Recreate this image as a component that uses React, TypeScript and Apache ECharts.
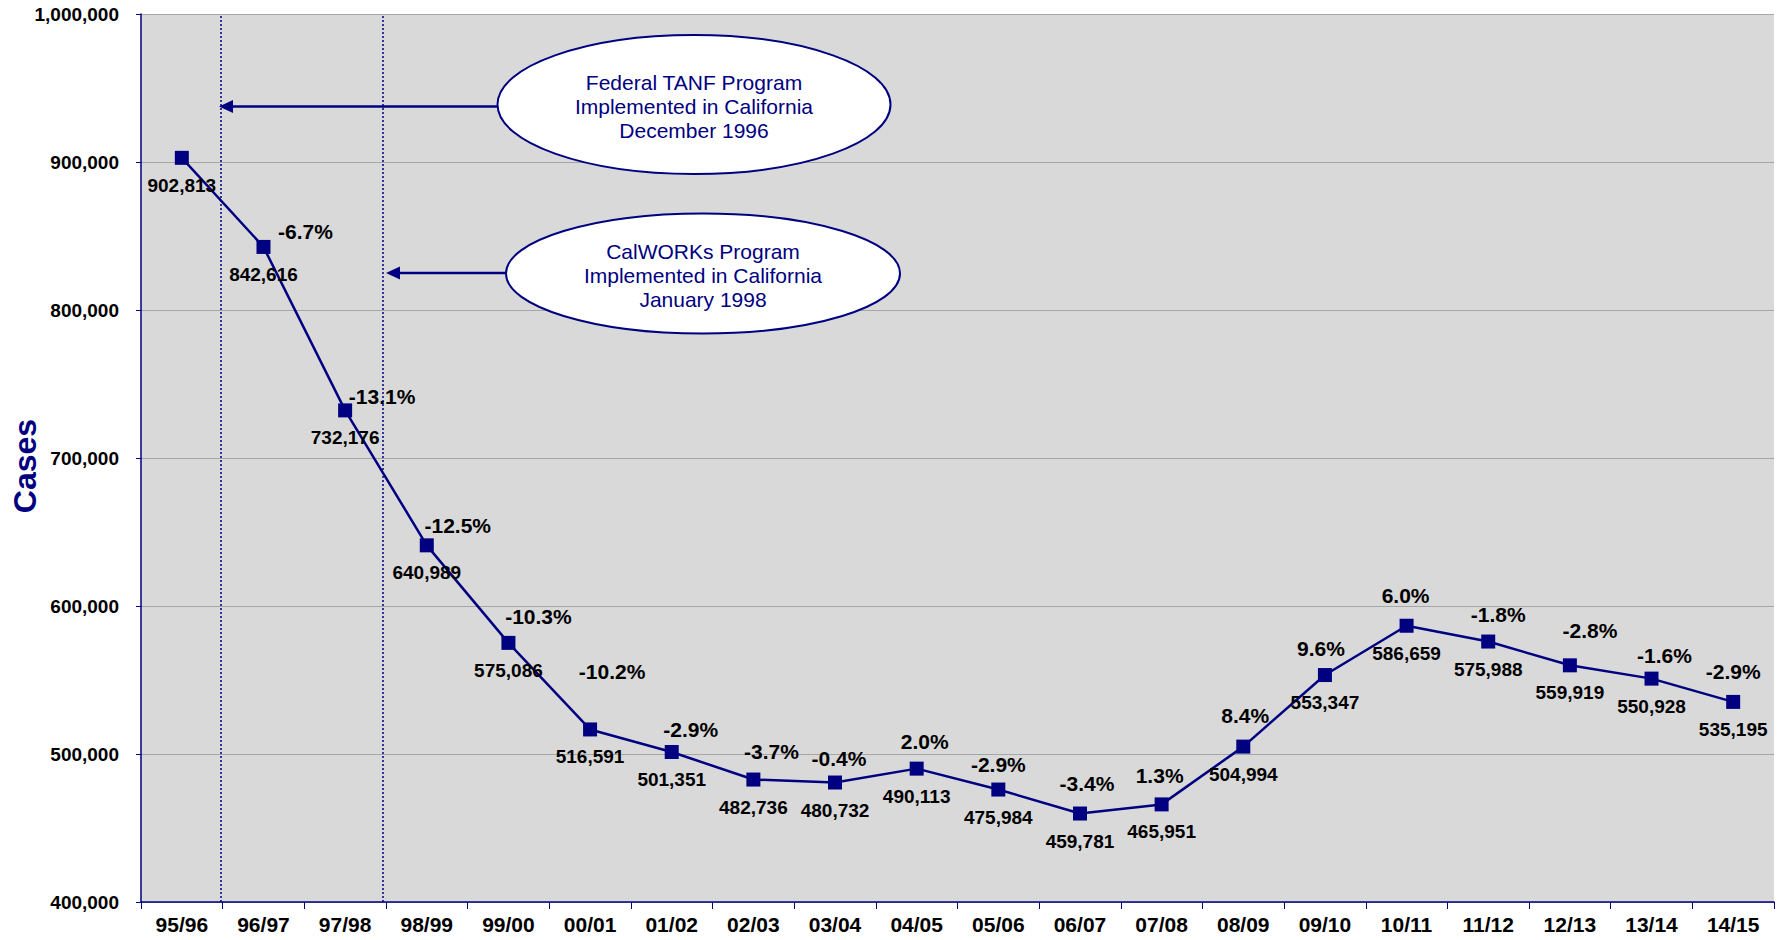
import React, { useEffect, useRef } from "react";
import * as echarts from "echarts";

const categories = ["95/96", "96/97", "97/98", "98/99", "99/00", "00/01", "01/02", "02/03", "03/04", "04/05", "05/06", "06/07", "07/08", "08/09", "09/10", "10/11", "11/12", "12/13", "13/14", "14/15"];
const cases = [902813, 842616, 732176, 640989, 575086, 516591, 501351, 482736, 480732, 490113, 475984, 459781, 465951, 504994, 553347, 586659, 575988, 559919, 550928, 535195];
const pctChange = ["", "-6.7%", "-13.1%", "-12.5%", "-10.3%", "-10.2%", "-2.9%", "-3.7%", "-0.4%", "2.0%", "-2.9%", "-3.4%", "1.3%", "8.4%", "9.6%", "6.0%", "-1.8%", "-2.8%", "-1.6%", "-2.9%"];
const yTicks = { min: 400000, max: 1000000, interval: 100000 };
const eventLinePositions = [0.98, 2.96];
const annotationTexts = [
  "Federal TANF Program\nImplemented in California\nDecember 1996",
  "CalWORKs Program\nImplemented in California\nJanuary 1998",
];

// label placement (style only): offset of label centre from point centre
const pctLabelOffsets = [[0, 0], [42, -15], [37, -13], [31, -19], [30, -26], [22, -57], [19, -22], [18, -28], [4, -24], [8, -27], [0, -25], [7, -30], [-2, -28], [2, -31], [-4, -26], [-1, -30], [10, -27], [20, -34], [13, -23], [0, -30]];

const NAVY = "#000080";
const FONT = "Arial, 'Liberation Sans', sans-serif";
const PCT_SIZE = 21;

export default function App() {
  const ref = useRef<HTMLDivElement>(null);
  useEffect(() => {
    if (!ref.current) return;
    const chart = echarts.init(ref.current, null, { renderer: "svg" });
    const fmt = (v: number) => v.toLocaleString("en-US");
    chart.setOption({
      animation: false,
      backgroundColor: "#ffffff",
      textStyle: { fontFamily: FONT },
      grid: {
        left: 141, right: 3, top: 14, bottom: 38,
        containLabel: false, outerBoundsMode: "none",
        show: true, backgroundColor: "#D9D9D9", borderWidth: 0,
      },
      xAxis: [
        {
          type: "category",
          data: categories,
          boundaryGap: true,
          axisLine: { show: true, lineStyle: { color: NAVY, width: 1.5 } },
          axisTick: { show: true, length: 7, lineStyle: { color: NAVY, width: 1 } },
          axisLabel: { fontFamily: FONT, fontSize: 21, fontWeight: "bold", color: "#000", margin: 12, interval: 0 },
          splitLine: { show: false },
        },
        { type: "value", min: 0, max: categories.length, show: false },
      ],
      yAxis: {
        type: "value",
        min: yTicks.min,
        max: yTicks.max,
        interval: yTicks.interval,
        name: "Cases",
        nameLocation: "middle",
        nameGap: 100,
        nameMoveOverlap: false,
        nameTextStyle: { fontFamily: FONT, fontSize: 32, fontWeight: "bold", color: NAVY, padding: [0, 16, 0, 0] },
        axisLine: { show: true, lineStyle: { color: NAVY, width: 1.5 } },
        axisTick: { show: true, length: 5, lineStyle: { color: NAVY, width: 1 } },
        axisLabel: { fontFamily: FONT, fontSize: 19, fontWeight: "bold", color: "#000", margin: 22, formatter: (v: number) => fmt(v) },
        splitLine: { show: true, lineStyle: { color: "#A6A6A6", width: 1 } },
      },
      series: [
        {
          type: "scatter",
          xAxisIndex: 1,
          data: [[0, yTicks.min]],
          symbolSize: 0,
          silent: true,
          markLine: {
            silent: true,
            symbol: ["none", "none"],
            label: { show: false },
            lineStyle: { type: [2, 2], color: NAVY, width: 1.5, opacity: 1 },
            data: eventLinePositions.map((x) => ({ xAxis: x })),
          },
        },
        {
          type: "line",
          data: cases,
          symbol: "rect",
          symbolSize: 14,
          lineStyle: { color: NAVY, width: 2.5 },
          itemStyle: { color: NAVY },
          label: {
            show: true,
            position: "bottom",
            distance: 11,
            fontFamily: FONT,
            fontSize: 19,
            fontWeight: "bold",
            color: "#000",
            formatter: (p: any) => fmt(p.value),
          },
          z: 3,
        },
        {
          type: "scatter",
          data: cases.map((v, i) => ({
            value: v,
            label: { offset: [pctLabelOffsets[i][0], pctLabelOffsets[i][1] + PCT_SIZE / 2] },
          })),
          symbol: "rect",
          symbolSize: 1,
          itemStyle: { color: NAVY, opacity: 1 },
          silent: true,
          label: {
            show: true,
            position: "top",
            distance: 0,
            fontFamily: FONT,
            fontSize: PCT_SIZE,
            fontWeight: "bold",
            color: "#000000",
            textBorderWidth: 0,
            formatter: (p: any) => pctChange[p.dataIndex],
          },
          z: 4,
        },
      ],
      graphic: [
        { type: "line", shape: { x1: 497, y1: 106.5, x2: 230, y2: 106.5 }, style: { stroke: NAVY, lineWidth: 2.5 }, z: 10 },
        { type: "polygon", shape: { points: [[219, 106.5], [233, 100], [233, 113]] }, style: { fill: NAVY }, z: 10 },
        { type: "ellipse", shape: { cx: 694, cy: 104.5, rx: 196.5, ry: 69.5 }, style: { fill: "#ffffff", stroke: NAVY, lineWidth: 2 }, z: 10 },
        { type: "text", x: 694, y: 106, style: { text: annotationTexts[0], align: "center", verticalAlign: "middle", fill: NAVY, fontFamily: FONT, fontSize: 21, lineHeight: 24 }, z: 11 },
        { type: "line", shape: { x1: 506, y1: 273, x2: 397, y2: 273 }, style: { stroke: NAVY, lineWidth: 2.5 }, z: 10 },
        { type: "polygon", shape: { points: [[386, 273], [400, 266.5], [400, 279.5]] }, style: { fill: NAVY }, z: 10 },
        { type: "ellipse", shape: { cx: 703, cy: 273.5, rx: 197, ry: 60 }, style: { fill: "#ffffff", stroke: NAVY, lineWidth: 2 }, z: 10 },
        { type: "text", x: 703, y: 275, style: { text: annotationTexts[1], align: "center", verticalAlign: "middle", fill: NAVY, fontFamily: FONT, fontSize: 21, lineHeight: 24 }, z: 11 },
      ],
    });
    return () => chart.dispose();
  }, []);
  return <div ref={ref} style={{ position: "absolute", left: 0, top: 0, width: 1777, height: 940 }} />;
}
